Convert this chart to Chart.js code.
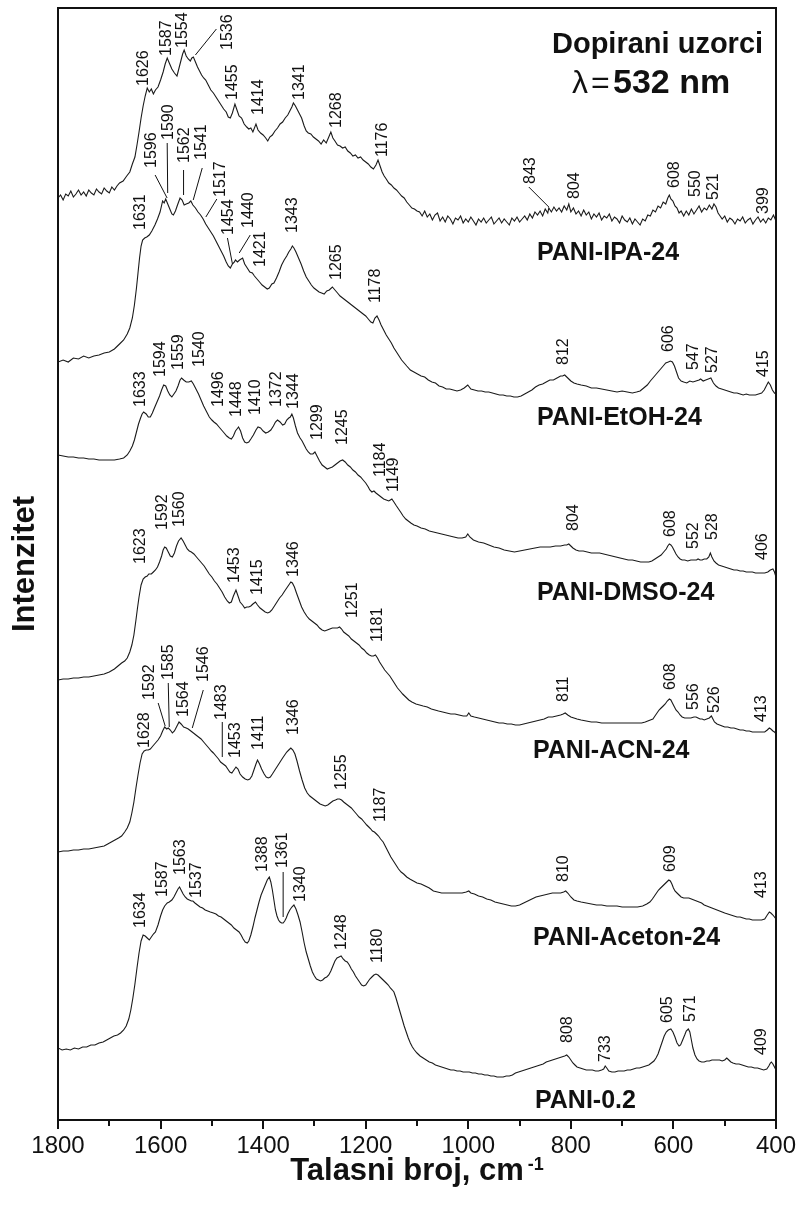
<!DOCTYPE html>
<html>
<head>
<meta charset="utf-8">
<script src="https://cdn.jsdelivr.net/npm/chart.js@4.4.0/dist/chart.umd.min.js"></script>
<style>
  html, body { margin: 0; padding: 0; background: #fff; }
  canvas { display: block; }
</style>
</head>
<body>
<canvas id="ramanChart" width="800" height="1209"></canvas>
<script>
// Raman spectra, [wavenumber cm-1, intensity a.u. above the spectrum's own baseline]
const ipaSpectrum = [
  [1800,27],[1795,30],[1790,25],[1785,31],[1780,29],[1775,34],[1770,28],[1765,31],[1760,35],[1755,30],[1750,33],[1745,29],[1740,35],[1735,32],[1730,30],[1725,36],[1720,33],[1715,31],[1710,37],[1705,34],[1700,32],[1695,38],[1690,35],[1685,39],[1680,42],
  [1673,44],[1666,49],[1660,53],[1655,61],[1650,68],[1646,80],[1642,93],[1638,107],[1634,119],[1630,129],[1626,137],
  [1622,133],[1618,136],[1614,131],[1610,135],[1605,138],[1600,145],[1595,153],[1591,161],[1587,167],[1583,162],[1578,156],[1573,152],[1568,149],[1564,157],[1560,165],[1557,171],[1554,175],
  [1550,169],[1546,166],[1542,164],[1539,167],[1536,168],[1532,163],[1528,158],[1524,154],[1520,150],[1516,147],[1512,145],[1507,140],[1502,135],[1497,132],[1492,128],[1487,124],[1482,120],[1477,116],[1472,113],[1468,108],[1464,107],[1460,112],[1455,121],
  [1451,115],[1447,109],[1442,107],[1437,101],[1432,98],[1428,96],[1424,97],[1420,93],[1414,101],[1410,95],[1405,92],[1400,90],[1395,87],[1391,84],[1387,88],[1382,90],[1377,94],[1372,97],[1367,101],[1362,103],[1357,107],[1352,110],[1347,115],[1344,118],[1341,122],
  [1337,119],[1333,115],[1329,111],[1325,107],[1320,99],[1316,94],[1312,92],[1307,91],[1302,88],[1297,86],[1292,84],[1287,81],[1282,85],[1277,82],[1272,88],[1268,93],
  [1264,87],[1260,84],[1255,80],[1250,79],[1245,77],[1240,78],[1235,74],[1230,72],[1225,69],[1220,70],[1215,67],[1210,68],[1205,65],[1200,63],[1195,61],[1190,58],[1185,56],[1180,60],[1176,65],
  [1172,59],[1168,53],[1164,49],[1160,46],[1155,42],[1150,40],[1145,37],[1140,35],[1135,32],[1130,29],[1125,27],[1120,23],[1115,20],[1110,17],[1105,16],[1100,14],
  [1095,13],[1090,9],[1085,14],[1080,8],[1075,11],[1070,5],[1065,10],[1060,12],[1055,4],[1050,8],[1045,3],[1040,9],[1035,6],[1030,1],[1025,7],[1020,5],[1015,9],[1010,2],[1005,6],[1000,3],
  [995,8],[990,4],[985,0],[980,6],[975,3],[970,7],[965,2],[960,5],[955,8],[950,1],[945,4],[940,7],[935,2],[930,6],[925,3],[920,0],[915,7],[910,4],[905,8],[900,3],
  [895,6],[890,9],[885,5],[880,11],[875,7],[870,13],[865,10],[860,14],[855,9],[850,16],[845,12],[843,17],[838,13],[833,18],[828,14],[823,17],[818,13],[813,19],[808,15],[804,21],
  [800,13],[795,17],[790,11],[785,14],[780,9],[775,15],[770,10],[765,13],[760,6],[755,11],[750,8],[745,12],[740,5],[735,9],[730,7],[725,11],[720,4],[715,8],[710,6],[705,2],
  [700,9],[695,5],[690,3],[685,7],[680,1],[675,6],[670,3],[665,0],[660,6],[655,4],[650,10],[645,9],[640,15],[635,13],[630,19],[625,17],[620,23],[615,21],[611,27],[608,30],
  [605,26],[601,24],[597,19],[593,17],[589,12],[585,14],[580,9],[575,14],[570,10],[565,16],[560,11],[555,15],[550,19],[545,13],[540,17],[535,15],[530,20],[525,16],[521,21],[517,18],
  [513,12],[509,9],[505,6],[500,9],[495,3],[490,7],[485,5],[480,1],[475,6],[470,4],[465,8],[460,2],[455,5],[450,7],[445,1],[440,5],[435,8],[430,3],[425,6],[420,2],[415,7],[410,5],[405,10],[400,4]
];

const etohSpectrum = [
  [1800,38],[1790,40],[1780,38],[1770,42],[1760,41],[1750,44],[1740,42],[1730,44],[1720,45],[1710,47],[1700,48],[1690,51],[1680,56],[1672,60],[1665,66],[1660,72],[1655,82],[1651,95],[1647,112],[1644,127],[1641,142],[1638,154],[1635,160],[1631,162],[1627,163],[1622,165],[1617,169],[1611,175],[1606,181],[1601,188],
  [1596,199],[1593,197],[1590,201],[1586,196],[1582,191],[1578,186],[1575,185],[1571,189],[1567,195],[1562,202],[1558,200],[1554,195],[1550,196],[1545,197],[1541,199],[1537,195],[1532,192],[1527,188],[1522,185],[1517,181],[1512,176],[1507,172],[1502,168],[1497,164],[1492,159],[1487,154],[1482,149],[1477,144],[1472,138],[1468,134],[1464,132],[1460,136],[1456,138],[1454,140],[1450,138],[1446,140],[1440,142],[1436,136],[1431,132],[1426,128],[1421,127],[1417,124],[1412,121],[1407,118],[1402,115],[1397,113],[1392,111],[1388,112],[1383,116],[1379,117],[1374,122],[1369,128],[1364,135],[1359,140],[1354,144],[1350,148],[1346,151],[1343,154],[1340,152],[1336,148],[1331,142],[1326,136],[1321,129],[1316,123],[1311,119],[1306,115],[1301,112],[1296,110],[1291,108],[1286,107],[1281,106],[1276,109],[1271,110],[1265,113],[1260,110],[1255,107],[1250,104],[1245,102],[1240,100],[1235,98],[1230,96],[1225,94],[1220,92],[1215,90],[1210,88],[1205,86],[1200,84],[1195,81],[1190,78],[1186,77],[1182,82],[1178,84],[1174,80],[1170,75],[1165,70],[1160,65],[1155,61],[1150,57],[1145,52],[1140,48],[1135,44],[1130,40],[1125,37],[1120,34],[1113,30],[1106,28],[1099,26],[1092,24],[1085,23],[1078,20],[1071,18],[1064,17],[1057,14],[1050,13],[1043,11],[1036,11],[1029,10],[1022,9],[1015,10],[1008,12],[1001,15],[995,11],[988,10],[981,9],[974,9],[967,8],[960,8],[953,7],[946,6],[939,5],[932,5],[925,4],[918,4],[911,3],[904,3],[897,4],[890,6],[883,8],[876,10],[869,13],[862,15],[855,16],[848,18],[841,20],[834,20],[827,22],[820,24],[816,24],[812,25],[806,22],[800,19],[794,17],[788,16],[780,15],[770,14],[760,12],[750,12],[740,11],[730,10],[720,9],[710,8],[700,9],[690,8],[680,7],[672,8],[665,9],[658,12],[651,15],[645,19],[640,22],[635,25],[630,28],[625,31],[620,34],[615,37],[610,38],[606,39],[602,38],[598,34],[594,28],[590,22],[585,19],[580,18],[574,17],[568,19],[562,18],[556,19],[550,20],[547,21],[542,19],[537,20],[532,21],[527,22],[522,17],[517,14],[512,12],[506,11],[500,10],[494,9],[488,8],[482,7],[476,7],[470,6],[464,5],[458,6],[452,5],[446,5],[440,5],[434,6],[428,7],[423,10],[419,14],[415,18],[411,15],[407,10],[403,7],[400,6]
];

const dmsoSpectrum = [
  [1800,125],[1790,124],[1780,123],[1770,123],[1760,122],[1750,122],[1740,121],[1730,121],[1720,120],[1710,120],[1700,120],[1690,120],[1680,121],[1672,122],[1665,125],[1660,129],[1655,134],[1651,140],[1647,148],[1643,156],[1639,162],[1636,166],[1633,168],[1628,166],[1624,163],[1620,163],[1616,167],[1612,172],[1607,178],[1602,184],[1598,190],[1594,195],[1590,194],[1586,189],[1582,185],[1578,183],[1574,186],[1570,189],[1566,194],[1562,200],[1559,202],[1555,200],[1550,198],[1545,198],[1540,199],[1536,196],[1531,191],[1526,186],[1521,180],[1516,174],[1510,168],[1505,163],[1500,160],[1496,158],[1491,156],[1486,153],[1481,150],[1476,147],[1471,144],[1466,142],[1462,141],[1458,144],[1454,149],[1451,151],[1448,153],[1444,149],[1440,142],[1436,138],[1432,137],[1428,138],[1424,141],[1419,145],[1414,150],[1410,153],[1405,152],[1400,149],[1395,147],[1390,148],[1385,150],[1380,154],[1376,158],[1372,160],[1367,158],[1362,155],[1358,156],[1354,160],[1350,162],[1347,163],[1344,166],[1341,162],[1337,154],[1333,147],[1328,142],[1324,139],[1320,135],[1316,131],[1312,128],[1308,126],[1303,126],[1299,128],[1295,124],[1290,119],[1285,115],[1280,113],[1275,111],[1270,112],[1265,113],[1260,115],[1255,117],[1250,119],[1245,120],[1240,118],[1235,115],[1230,113],[1225,110],[1220,108],[1215,105],[1210,103],[1205,100],[1200,97],[1195,93],[1192,90],[1188,88],[1184,89],[1180,87],[1175,85],[1170,83],[1165,81],[1160,80],[1155,79],[1152,80],[1149,81],[1145,78],[1140,74],[1136,71],[1132,68],[1127,64],[1122,61],[1117,59],[1112,57],[1106,55],[1100,54],[1092,52],[1084,51],[1076,49],[1068,48],[1060,47],[1052,46],[1044,45],[1036,44],[1028,43],[1020,42],[1012,42],[1005,43],[1001,46],[997,43],[990,40],[980,38],[970,37],[960,35],[950,33],[940,32],[930,30],[920,29],[910,28],[900,29],[890,30],[880,31],[870,32],[860,33],[850,33],[840,33],[830,34],[820,34],[812,35],[808,35],[804,36],[800,34],[796,32],[790,30],[784,29],[776,29],[768,28],[760,27],[752,27],[744,27],[736,26],[728,25],[720,24],[712,23],[704,22],[696,21],[688,20],[680,20],[672,19],[664,18],[656,18],[648,18],[642,19],[636,21],[630,23],[624,25],[619,28],[614,31],[611,34],[608,36],[605,35],[602,33],[599,30],[595,26],[591,23],[587,21],[583,20],[578,20],[572,19],[566,20],[560,20],[555,20],[552,21],[548,20],[544,20],[540,21],[535,21],[531,23],[528,27],[525,23],[521,19],[517,17],[512,15],[506,14],[500,13],[494,12],[488,11],[482,10],[476,10],[470,9],[464,9],[458,8],[452,8],[446,8],[440,7],[434,7],[428,7],[422,7],[416,8],[411,10],[406,11],[403,8],[400,3]
];

const acnSpectrum = [
  [1800,60],[1790,61],[1780,61],[1770,62],[1760,62],[1750,63],[1740,63],[1730,64],[1720,65],[1710,66],[1700,68],[1690,71],[1683,74],[1676,77],[1670,79],[1665,82],[1660,88],[1656,95],[1652,105],[1648,120],[1645,132],[1642,143],[1638,155],[1634,161],[1630,163],[1626,164],[1623,166],[1618,166],[1614,168],[1610,170],[1606,173],[1602,178],[1598,184],[1595,190],[1592,193],[1589,192],[1585,188],[1581,184],[1577,183],[1573,187],[1569,194],[1565,199],[1560,202],[1556,199],[1552,195],[1548,191],[1544,189],[1540,188],[1535,186],[1530,183],[1525,180],[1520,177],[1515,174],[1510,170],[1505,166],[1500,163],[1495,159],[1490,156],[1485,152],[1480,148],[1475,143],[1470,139],[1466,137],[1462,138],[1458,144],[1453,150],[1449,144],[1445,138],[1440,135],[1436,132],[1432,133],[1428,133],[1424,134],[1420,136],[1415,138],[1411,135],[1406,132],[1401,130],[1396,128],[1391,127],[1387,128],[1383,130],[1378,134],[1373,138],[1368,142],[1363,145],[1358,149],[1354,152],[1350,155],[1346,158],[1343,157],[1339,153],[1335,147],[1330,140],[1325,133],[1320,128],[1315,124],[1310,121],[1305,119],[1300,117],[1295,115],[1290,112],[1285,110],[1280,109],[1275,110],[1270,111],[1265,112],[1260,112],[1255,112],[1251,113],[1247,111],[1243,108],[1238,106],[1233,104],[1228,101],[1223,99],[1218,97],[1213,95],[1208,92],[1203,90],[1198,87],[1193,85],[1189,84],[1185,84],[1181,85],[1177,82],[1173,78],[1168,74],[1163,70],[1158,67],[1153,64],[1148,60],[1143,56],[1138,52],[1133,49],[1128,46],[1122,43],[1116,40],[1110,38],[1102,36],[1095,35],[1088,34],[1080,33],[1072,31],[1065,30],[1058,29],[1050,28],[1042,27],[1034,26],[1026,26],[1018,25],[1010,24],[1003,24],[999,27],[995,24],[988,23],[980,22],[972,21],[964,20],[956,19],[948,18],[940,17],[932,17],[924,16],[916,16],[908,15],[900,15],[892,16],[884,17],[876,18],[868,19],[860,20],[852,21],[844,23],[836,23],[828,24],[820,25],[815,26],[811,27],[806,25],[800,23],[794,22],[788,21],[780,20],[770,19],[760,18],[750,18],[740,17],[730,17],[720,17],[710,17],[700,17],[690,17],[680,17],[670,17],[662,17],[655,18],[650,19],[645,20],[640,21],[636,24],[632,27],[628,30],[624,32],[620,34],[616,36],[612,39],[608,41],[605,40],[602,37],[599,34],[595,30],[591,28],[587,25],[583,23],[578,22],[572,22],[566,22],[560,23],[556,23],[552,22],[548,21],[544,21],[540,20],[535,21],[530,22],[526,24],[523,21],[520,18],[515,16],[510,15],[505,14],[500,13],[494,13],[488,12],[482,12],[476,11],[470,10],[464,10],[458,9],[452,9],[446,8],[440,8],[434,8],[428,8],[422,8],[417,10],[413,12],[410,11],[406,9],[403,8],[400,6]
];

const acetonSpectrum = [
  [1800,73],[1790,74],[1780,74],[1770,75],[1760,75],[1750,76],[1740,76],[1730,77],[1720,78],[1710,79],[1703,81],[1696,83],[1689,85],[1682,87],[1676,89],[1670,93],[1665,97],[1660,103],[1656,112],[1652,123],[1648,137],[1644,150],[1640,162],[1636,171],[1632,174],[1628,175],[1624,175],[1620,176],[1615,179],[1610,182],[1605,185],[1600,189],[1596,194],[1592,198],[1588,196],[1585,197],[1581,195],[1577,192],[1573,194],[1569,198],[1564,203],[1560,201],[1555,198],[1550,197],[1546,196],[1541,194],[1536,192],[1531,190],[1526,188],[1521,186],[1516,183],[1511,180],[1506,177],[1501,174],[1497,172],[1492,169],[1487,166],[1483,163],[1478,161],[1473,159],[1469,156],[1465,153],[1461,152],[1457,155],[1453,158],[1449,156],[1445,151],[1440,148],[1435,146],[1430,145],[1426,146],[1422,149],[1418,155],[1414,161],[1411,165],[1407,161],[1403,156],[1398,151],[1394,148],[1390,147],[1386,148],[1382,151],[1377,155],[1372,159],[1367,163],[1362,167],[1358,170],[1354,173],[1350,175],[1346,177],[1342,175],[1338,171],[1334,164],[1329,154],[1324,145],[1319,137],[1314,132],[1309,129],[1304,127],[1299,125],[1294,123],[1289,121],[1284,120],[1279,119],[1274,120],[1269,122],[1264,124],[1259,125],[1255,126],[1251,126],[1247,125],[1243,123],[1238,121],[1233,119],[1228,117],[1223,114],[1218,111],[1213,108],[1208,106],[1203,103],[1198,100],[1194,98],[1190,96],[1187,94],[1183,93],[1179,91],[1175,89],[1171,86],[1166,83],[1161,78],[1156,73],[1151,68],[1146,64],[1141,60],[1136,56],[1131,53],[1126,51],[1120,48],[1114,46],[1107,44],[1100,42],[1092,41],[1084,39],[1076,37],[1068,34],[1060,33],[1052,32],[1044,32],[1036,32],[1028,32],[1020,32],[1012,32],[1004,33],[999,34],[995,32],[988,31],[980,29],[972,28],[964,26],[956,25],[948,23],[940,22],[932,21],[924,20],[916,19],[908,19],[900,20],[892,22],[884,24],[876,26],[868,28],[860,29],[852,30],[844,31],[836,32],[828,32],[820,32],[814,33],[810,34],[806,32],[800,28],[794,25],[788,24],[780,23],[770,22],[760,21],[750,20],[740,20],[730,19],[720,19],[710,19],[700,18],[690,18],[680,18],[670,18],[660,19],[652,21],[646,23],[641,26],[637,29],[633,32],[629,35],[625,37],[621,39],[617,41],[613,43],[609,45],[606,44],[603,41],[600,37],[597,34],[593,32],[589,30],[585,28],[580,27],[575,27],[570,27],[565,26],[560,25],[555,24],[550,23],[545,22],[540,20],[535,19],[530,18],[525,17],[520,16],[515,15],[510,14],[505,13],[500,12],[494,11],[488,10],[482,9],[476,8],[470,8],[464,7],[458,6],[452,6],[446,5],[440,5],[434,5],[428,5],[422,6],[417,10],[413,13],[410,12],[406,10],[403,8],[400,6]
];

const pani02Spectrum = [
  [1800,32],[1792,30],[1784,31],[1776,30],[1768,32],[1760,31],[1752,33],[1744,33],[1736,35],[1728,35],[1720,37],[1712,38],[1705,40],[1698,42],[1691,44],[1684,45],[1678,47],[1672,50],[1667,54],[1662,61],[1658,70],[1654,82],[1650,96],[1646,112],[1642,127],[1638,139],[1634,145],[1630,144],[1626,142],[1622,140],[1618,143],[1614,146],[1610,148],[1605,155],[1600,164],[1596,170],[1592,174],[1587,177],[1583,178],[1578,180],[1574,183],[1570,187],[1566,191],[1563,193],[1560,190],[1556,186],[1552,183],[1548,181],[1544,180],[1540,179],[1537,179],[1533,177],[1528,175],[1523,173],[1518,172],[1513,170],[1508,169],[1503,168],[1497,167],[1492,166],[1487,164],[1482,163],[1477,161],[1472,159],[1467,157],[1462,155],[1457,152],[1452,150],[1447,148],[1443,145],[1439,141],[1435,138],[1431,137],[1428,139],[1424,145],[1420,153],[1416,162],[1412,170],[1408,178],[1404,185],[1400,190],[1396,195],[1392,200],[1388,203],[1385,198],[1382,190],[1379,180],[1376,170],[1373,164],[1370,160],[1367,158],[1364,157],[1361,157],[1358,159],[1355,162],[1352,166],[1348,170],[1344,173],[1340,175],[1336,171],[1332,165],[1328,158],[1324,148],[1320,137],[1316,128],[1312,121],[1308,114],[1304,108],[1300,104],[1296,101],[1292,100],[1288,99],[1284,100],[1280,102],[1276,103],[1272,105],[1268,109],[1264,114],[1260,119],[1256,122],[1252,123],[1248,124],[1244,121],[1240,119],[1236,118],[1232,115],[1228,111],[1224,108],[1220,104],[1216,101],[1212,98],[1208,95],[1204,94],[1200,95],[1196,98],[1192,101],[1188,103],[1184,105],[1180,106],[1176,105],[1172,103],[1168,101],[1164,99],[1160,97],[1156,95],[1152,92],[1148,90],[1145,88],[1141,82],[1137,75],[1133,68],[1129,61],[1125,54],[1121,48],[1117,42],[1113,37],[1109,33],[1105,30],[1100,27],[1094,24],[1088,22],[1082,20],[1076,18],[1070,17],[1064,15],[1058,14],[1052,13],[1046,12],[1040,11],[1034,10],[1028,10],[1022,9],[1016,9],[1010,8],[1004,8],[998,8],[992,7],[986,7],[980,6],[974,6],[968,5],[962,5],[956,4],[950,4],[944,3],[938,3],[932,3],[926,4],[920,4],[914,5],[908,7],[902,8],[896,9],[890,10],[884,11],[878,12],[872,13],[866,14],[860,15],[854,16],[848,18],[842,19],[836,20],[830,21],[824,22],[818,23],[812,24],[808,25],[804,23],[800,20],[796,17],[792,15],[788,13],[782,12],[776,11],[770,10],[764,10],[758,10],[752,9],[746,9],[740,10],[736,11],[733,14],[730,12],[726,9],[720,8],[714,8],[708,9],[702,9],[696,9],[690,10],[684,10],[678,11],[672,12],[666,12],[660,13],[654,14],[648,15],[643,17],[638,19],[634,22],[630,26],[626,32],[622,38],[618,44],[614,48],[610,50],[605,51],[601,48],[597,43],[593,37],[589,34],[586,35],[582,40],[578,45],[575,49],[571,51],[568,48],[565,40],[562,32],[558,25],[554,21],[550,19],[545,18],[540,18],[535,19],[530,19],[525,20],[520,20],[515,20],[510,20],[505,19],[500,20],[496,22],[492,20],[488,18],[484,17],[478,16],[472,16],[466,15],[460,14],[454,13],[448,13],[442,12],[436,12],[430,11],[424,10],[418,11],[414,14],[411,17],[409,18],[406,16],[403,13],[400,10]
];

// vertical offset of each trace in the stack (a.u.)
const stackOffsets = [895, 720, 540, 380, 195, 40];
const sampleNames = ['PANI-IPA-24', 'PANI-EtOH-24', 'PANI-DMSO-24', 'PANI-ACN-24', 'PANI-Aceton-24', 'PANI-0.2'];

// labelled band positions, cm-1
const ipaPeaks = [1626, 1587, 1554, 1536, 1455, 1414, 1341, 1268, 1176, 843, 804, 608, 550, 521, 399];
const etohPeaks = [1631, 1596, 1590, 1562, 1541, 1517, 1454, 1440, 1421, 1343, 1265, 1178, 812, 606, 547, 527, 415];
const dmsoPeaks = [1633, 1594, 1559, 1540, 1496, 1448, 1410, 1372, 1344, 1299, 1245, 1184, 1149, 804, 608, 552, 528, 406];
const acnPeaks = [1623, 1592, 1560, 1453, 1415, 1346, 1251, 1181, 811, 608, 556, 526, 413];
const acetonPeaks = [1628, 1592, 1585, 1564, 1546, 1483, 1453, 1411, 1346, 1255, 1187, 810, 609, 413];
const pani02Peaks = [1634, 1587, 1563, 1537, 1388, 1361, 1340, 1248, 1180, 808, 733, 605, 571, 409];

// label placement in px: [dx, lift] and optionally a leader line [x1, lift1, x2, lift2]
const ipaSpots = [[-4,2],[-1,2],[-2,2],[34,7,2,2,23,28],[-2,4],[3,9],[6,3],[6,4],[5,3],[-18,24,0,1,-20,21],[6,5],[5,7],[-3,9],[0,4],[-13,7]];
const etohSpots = [[-4,8],[-11.5,33,4.5,3,-7.5,26],[2.4,59,2,6,1.5,56],[4.5,35,3.5,3,3.5,28],[10.4,41,2.4,1,11.4,33],[17.7,22,2.7,2,13.7,20],[-7.2,25,-3,-4,-8,22],[5.6,30,-3.4,5,7.6,23],[8,6],[0,13],[4,7],[-1.5,13],[-1,10],[-1.4,9],[-6.7,9],[2,5],[-5,5]];
const dmsoSpots = [[-3.5,5],[-3.5,8],[-3,8],[8,14],[5,15],[-2,10],[-2,12],[-1,13],[1.5,5],[2.4,12],[0,15],[6.5,14],[1.6,7],[5,13],[1.6,7],[-4,10],[2.6,13],[-10,9]];
const acnSpots = [[-8.6,10],[-2.5,17],[-1,11],[-1,7],[2,7],[2.5,5],[13,9],[2,13],[-1.5,11],[1.6,9],[-2,7],[3,3],[-8,6]];
const acetonSpots = [[-2,2],[-15.5,27,0.5,1,-6.5,24],[0,48,1,1,0,45],[4.7,5],[15,47,4,1,15,39],[0.7,42,1.7,5,1.7,40],[0,9],[1,10],[2.5,13],[4,9],[8,9],[-2,9],[2,8],[-8,14]];
const pani02Spots = [[-3,7],[-5,6],[0.6,12],[3.3,3],[-7,5],[-1,55,0,6,0,51],[6.4,3],[0,6],[1.5,11],[1,12],[0,4],[-3,6],[2.6,7],[-10,7]];

// sample name positions (left, baseline) in px
const namePositions = [[537,260],[537,425],[537,600],[533,758],[533,945],[535,1108]];

const spectra = [
    { data: ipaSpectrum, peaks: ipaPeaks, spots: ipaSpots },
    { data: etohSpectrum, peaks: etohPeaks, spots: etohSpots },
    { data: dmsoSpectrum, peaks: dmsoPeaks, spots: dmsoSpots },
    { data: acnSpectrum, peaks: acnPeaks, spots: acnSpots },
    { data: acetonSpectrum, peaks: acetonPeaks, spots: acetonSpots },
    { data: pani02Spectrum, peaks: pani02Peaks, spots: pani02Spots }
];

const FONT = '"Liberation Sans", Arial, Helvetica, sans-serif';

// Intensity of a spectrum at any wavenumber (data is sorted high -> low)
function valueAt(spec, wn) {
    if (wn >= spec[0][0]) return spec[0][1];
    for (let i = 1; i < spec.length; i++) {
        if (wn >= spec[i][0]) {
            const [x0, y0] = spec[i - 1];
            const [x1, y1] = spec[i];
            return y0 + (y1 - y0) * (wn - x0) / (x1 - x0);
        }
    }
    return spec[spec.length - 1][1];
}

// Peak labels, frame, ticks and titles
const decorations = {
    id: 'decorations',
    afterDatasetsDraw(chart) {
        const { ctx, scales: { x, y } } = chart;
        ctx.save();
        ctx.fillStyle = '#111';
        ctx.strokeStyle = '#111';
        ctx.lineWidth = 1;
        ctx.font = '16px ' + FONT;

        spectra.forEach((s, k) => {
            s.peaks.forEach((wn, i) => {
                const spot = s.spots[i];
                const px = x.getPixelForValue(wn);
                const py = y.getPixelForValue(stackOffsets[k] + valueAt(s.data, wn));
                if (spot.length > 2) {
                    ctx.beginPath();
                    ctx.moveTo(px + spot[2], py - spot[3]);
                    ctx.lineTo(px + spot[4], py - spot[5]);
                    ctx.stroke();
                }
                ctx.save();
                ctx.translate(px + spot[0], py - spot[1]);
                ctx.rotate(-Math.PI / 2);
                ctx.textAlign = 'left';
                ctx.textBaseline = 'middle';
                ctx.fillText(String(wn), 0, 0);
                ctx.restore();
            });
        });

        // sample names under each trace
        ctx.font = 'bold 25px ' + FONT;
        ctx.textAlign = 'left';
        ctx.textBaseline = 'alphabetic';
        sampleNames.forEach((name, k) => {
            ctx.fillText(name, namePositions[k][0], namePositions[k][1]);
        });
        ctx.restore();
    },
    afterDraw(chart) {
        const { ctx, chartArea: a, scales: { x } } = chart;
        ctx.save();
        ctx.strokeStyle = '#111';
        ctx.fillStyle = '#111';

        // plot frame
        ctx.lineWidth = 2;
        ctx.strokeRect(a.left, a.top, a.right - a.left, a.bottom - a.top);

        // outward ticks on the wavenumber axis
        for (let v = 400; v <= 1800; v += 100) {
            const px = Math.round(x.getPixelForValue(v));
            const len = v % 200 === 0 ? 9 : 6;
            ctx.beginPath();
            ctx.moveTo(px, a.bottom);
            ctx.lineTo(px, a.bottom + len);
            ctx.stroke();
        }

        // x axis title with superscript
        ctx.textBaseline = 'alphabetic';
        ctx.textAlign = 'left';
        const main = 'Talasni broj, cm';
        ctx.font = 'bold 18px ' + FONT;
        const supW = ctx.measureText('-1').width;
        ctx.font = 'bold 31px ' + FONT;
        const mainW = ctx.measureText(main).width;
        const startX = (a.left + a.right) / 2 - (mainW + supW + 4) / 2;
        ctx.fillText(main, startX, 1180);
        ctx.font = 'bold 18px ' + FONT;
        ctx.fillText('-1', startX + mainW + 4, 1170);

        // y axis title
        ctx.save();
        ctx.translate(34, (a.top + a.bottom) / 2);
        ctx.rotate(-Math.PI / 2);
        ctx.textAlign = 'center';
        ctx.font = 'bold 31px ' + FONT;
        ctx.fillText('Intenzitet', 0, 0);
        ctx.restore();

        // heading in the corner
        ctx.textAlign = 'left';
        ctx.font = 'bold 29px ' + FONT;
        ctx.fillText('Dopirani uzorci', 552, 53);
        ctx.font = '32px ' + FONT;
        ctx.fillText('\u03bb', 572, 93);
        ctx.fillText('=', 591, 93);
        ctx.font = 'bold 34px ' + FONT;
        ctx.fillText('532 nm', 613, 93);
        ctx.restore();
    }
};

const ctx = document.getElementById('ramanChart').getContext('2d');
const ramanChart = new Chart(ctx, {
    type: 'line',
    data: {
        datasets: spectra.map((s, k) => ({
            label: sampleNames[k],
            data: s.data.map(([wn, v]) => ({ x: wn, y: stackOffsets[k] + v })),
            borderColor: '#1a1a1a',
            borderWidth: 1.1,
            pointRadius: 0,
            fill: false,
            tension: 0
        }))
    },
    options: {
        responsive: false,
        animation: false,
        layout: { padding: { left: 58, right: 24, top: 8, bottom: 0 } },
        plugins: {
            legend: { display: false },
            tooltip: { enabled: false }
        },
        scales: {
            x: {
                type: 'linear',
                reverse: true,
                min: 400,
                max: 1800,
                grid: { display: false, drawTicks: false },
                border: { display: false },
                ticks: {
                    stepSize: 200,
                    autoSkip: false,
                    maxRotation: 0,
                    padding: 12,
                    color: '#111',
                    font: { family: FONT, size: 24 },
                    callback: v => String(v)
                },
                afterFit: scale => {
                    scale.height = 89;
                    // the end labels may hang past the frame
                    scale.paddingLeft = 0;
                    scale.paddingRight = 0;
                }
            },
            y: {
                display: false,
                min: 0,
                max: 1112
            }
        }
    },
    plugins: [decorations]
});
</script>
</body>
</html>
